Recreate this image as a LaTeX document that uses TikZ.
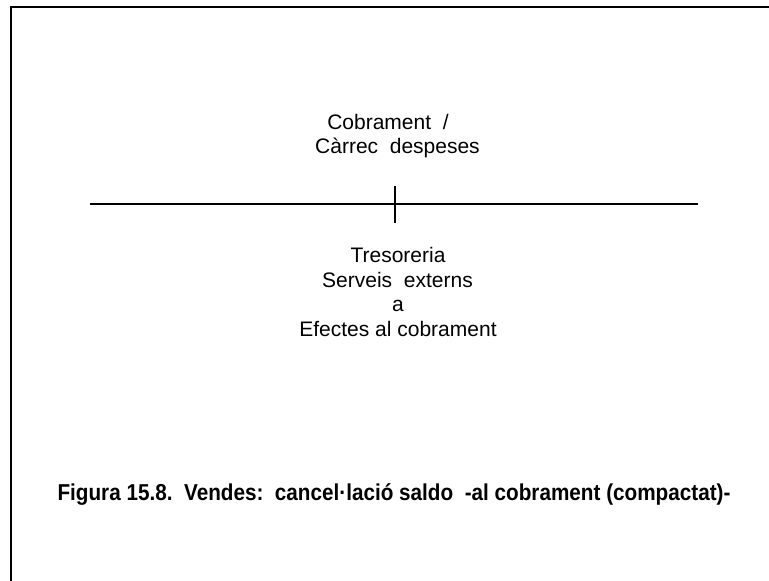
\documentclass[tikz,border=0pt]{standalone}
\usepackage{fontspec}
\setmainfont{Liberation Sans}
\begin{document}
\begin{tikzpicture}[x=1pt,y=-1pt,
  frameline/.style={line width=2pt},
  tline/.style={line width=2.8pt},
  lbl/.style={anchor=base,inner sep=0pt,font=\fontsize{21}{25}\selectfont},
  captext/.style={anchor=base,inner sep=0pt,font=\bfseries\fontsize{23}{27}\selectfont}]
\useasboundingbox (0,0) rectangle (769,581);
% page frame: top and left edges
\coordinate (fTL) at (11,6.5);
\coordinate (fTR) at (769,6.5);
\coordinate (fBL) at (11,581);
\draw[frameline] (fTR) -- (fTL) -- (fBL);
% T account
\coordinate (tL) at (90,204);
\coordinate (tR) at (698,204);
\coordinate (tT) at (395,186);
\coordinate (tB) at (395,223);
\draw[tline] (tL) -- (tR);
\draw[tline] (tT) -- (tB);
% labels above the line
\node[lbl] (c1) at (388,129) {Cobrament\ \ /};
\node[lbl] (c2) at (397.5,153) {Càrrec\ \ despeses};
% labels below the line
\node[lbl] (d1) at (398,262) {Tresoreria};
\node[lbl] (d2) at (397.5,287) {Serveis\ \ externs};
\node[lbl] (d3) at (398,311) {a};
\node[lbl] (d4) at (398,336) {Efectes al cobrament};
% caption
\node[captext] (capt) at (394,500) {\scalebox{0.9}[1]{Figura 15.8.\ \ Vendes:\ \ cancel·lació saldo\ \ -al cobrament (compactat)-}};
\end{tikzpicture}
\end{document}
